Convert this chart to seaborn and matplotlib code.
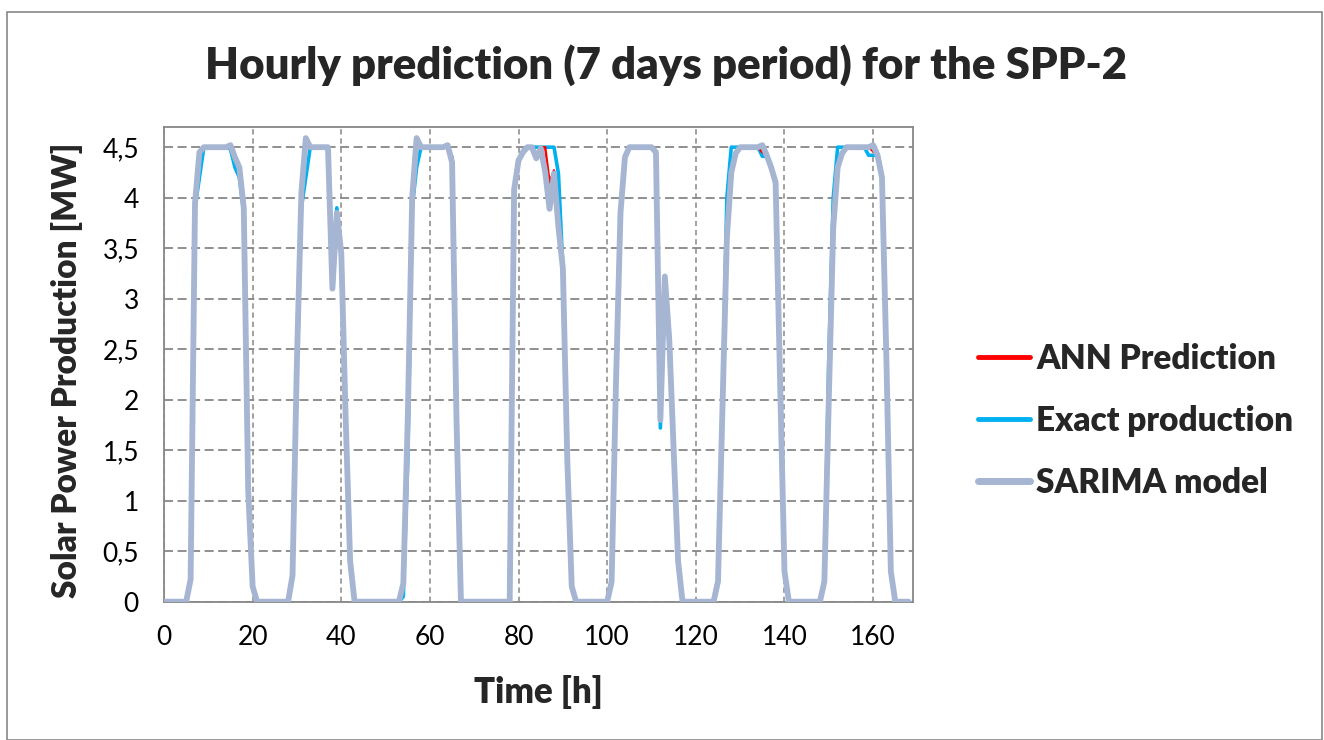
import matplotlib
matplotlib.use("Agg")
import matplotlib.pyplot as plt
import seaborn as sns
import pandas as pd
from matplotlib.patches import Rectangle
from matplotlib.ticker import FuncFormatter, MultipleLocator

# hourly values, 7 days (h0 .. h168)
hours = list(range(169))

ann_prediction = [
    0, 0, 0, 0, 0, 0, 0.22, 3.95, 4.45, 4.5, 4.5, 4.5, 4.5, 4.5, 4.5, 4.52, 4.4, 4.3, 3.9, 1.1, 0.15, 0, 0, 0,
    0, 0, 0, 0, 0, 0.26, 2.4, 4.05, 4.5, 4.5, 4.5, 4.5, 4.5, 4.5, 3.1, 3.85, 3.45, 1.8, 0.4, 0, 0, 0, 0, 0,
    0, 0, 0, 0, 0, 0, 0.18, 1.8, 4.0, 4.59, 4.5, 4.5, 4.5, 4.5, 4.5, 4.5, 4.52, 4.35, 1.8, 0, 0, 0, 0, 0,
    0, 0, 0, 0, 0, 0, 0, 4.08, 4.37, 4.45, 4.5, 4.5, 4.42, 4.5, 4.5, 4.15, 4.27, 3.7, 3.3, 1.4, 0.15, 0, 0, 0,
    0, 0, 0, 0, 0, 0.2, 2.2, 3.85, 4.4, 4.5, 4.5, 4.5, 4.5, 4.5, 4.5, 4.45, 1.8, 3.22, 2.6, 1.5, 0.4, 0, 0, 0,
    0, 0, 0, 0, 0, 0.2, 1.9, 3.6, 4.25, 4.44, 4.5, 4.5, 4.5, 4.5, 4.5, 4.45, 4.42, 4.3, 4.15, 2.2, 0.3, 0, 0, 0,
    0, 0, 0, 0, 0, 0.2, 2.0, 3.7, 4.3, 4.44, 4.5, 4.5, 4.5, 4.5, 4.5, 4.5, 4.46, 4.42, 4.2, 2.4, 0.3, 0, 0, 0, 0,
]

exact_production = [
    0, 0, 0, 0, 0, 0, 0.2, 3.9, 4.2, 4.5, 4.5, 4.5, 4.5, 4.5, 4.5, 4.48, 4.3, 4.2, 3.85, 1.1, 0.15, 0, 0, 0,
    0, 0, 0, 0, 0, 0.25, 2.2, 3.9, 4.2, 4.5, 4.5, 4.5, 4.5, 4.5, 3.1, 3.9, 3.45, 1.8, 0.4, 0, 0, 0, 0, 0,
    0, 0, 0, 0, 0, 0, 0.05, 1.4, 3.9, 4.3, 4.5, 4.5, 4.5, 4.5, 4.5, 4.5, 4.5, 4.4, 2.0, 0, 0, 0, 0, 0,
    0, 0, 0, 0, 0, 0, 0, 4.08, 4.37, 4.47, 4.5, 4.5, 4.5, 4.5, 4.5, 4.5, 4.5, 4.24, 3.3, 1.4, 0.15, 0, 0, 0,
    0, 0, 0, 0, 0, 0.2, 2.2, 3.85, 4.42, 4.5, 4.5, 4.5, 4.5, 4.5, 4.5, 4.45, 1.72, 3.2, 2.6, 1.5, 0.4, 0, 0, 0,
    0, 0, 0, 0, 0, 0.2, 2.0, 4.0, 4.5, 4.5, 4.5, 4.5, 4.5, 4.5, 4.5, 4.41, 4.41, 4.3, 4.15, 2.2, 0.3, 0, 0, 0,
    0, 0, 0, 0, 0, 0.2, 2.4, 4.0, 4.5, 4.5, 4.5, 4.5, 4.5, 4.5, 4.5, 4.42, 4.42, 4.42, 4.2, 2.4, 0.3, 0, 0, 0, 0,
]

sarima_model = [
    0, 0, 0, 0, 0, 0, 0.22, 3.95, 4.45, 4.5, 4.5, 4.5, 4.5, 4.5, 4.5, 4.52, 4.4, 4.3, 3.9, 1.1, 0.15, 0, 0, 0,
    0, 0, 0, 0, 0, 0.26, 2.4, 4.05, 4.59, 4.5, 4.5, 4.5, 4.5, 4.5, 3.1, 3.85, 3.45, 1.8, 0.4, 0, 0, 0, 0, 0,
    0, 0, 0, 0, 0, 0, 0.18, 1.8, 4.0, 4.59, 4.5, 4.5, 4.5, 4.5, 4.5, 4.5, 4.52, 4.35, 1.8, 0, 0, 0, 0, 0,
    0, 0, 0, 0, 0, 0, 0, 4.08, 4.37, 4.45, 4.5, 4.5, 4.39, 4.49, 4.26, 3.89, 4.24, 3.71, 3.3, 1.4, 0.15, 0, 0, 0,
    0, 0, 0, 0, 0, 0.2, 2.2, 3.85, 4.4, 4.5, 4.5, 4.5, 4.5, 4.5, 4.5, 4.45, 1.8, 3.22, 2.6, 1.5, 0.4, 0, 0, 0,
    0, 0, 0, 0, 0, 0.2, 1.9, 3.6, 4.25, 4.44, 4.5, 4.5, 4.5, 4.5, 4.5, 4.52, 4.42, 4.3, 4.15, 2.2, 0.3, 0, 0, 0,
    0, 0, 0, 0, 0, 0.2, 2.0, 3.7, 4.3, 4.44, 4.5, 4.5, 4.5, 4.5, 4.5, 4.5, 4.52, 4.42, 4.2, 2.4, 0.3, 0, 0, 0, 0,
]

sns.set_style("white")
plt.rcParams["font.family"] = ["Lato", "DejaVu Sans"]

grid_col = "#878787"
fig = plt.figure(figsize=(13.24, 7.4), dpi=100)
ax = fig.add_axes([164 / 1324, 1 - 601.7 / 740, 749 / 1324, 474.7 / 740])

df = pd.DataFrame({"hour": hours, "ann": ann_prediction,
                   "exact": exact_production, "sarima": sarima_model})

sns.lineplot(data=df, x="hour", y="exact", ax=ax, color="#00B0F0", lw=2.6,
             label="Exact production", zorder=3)
sns.lineplot(data=df, x="hour", y="ann", ax=ax, color="#FF0000", lw=1.8,
             label="ANN Prediction", zorder=4)
sns.lineplot(data=df, x="hour", y="sarima", ax=ax, color="#A5B5D2", lw=4.2,
             label="SARIMA model", zorder=5)
for ln in ax.get_lines():
    ln.set_solid_joinstyle("round")
    ln.set_solid_capstyle("round")

ax.set_xlim(0, 169)
ax.set_ylim(0, 4.7)
ax.xaxis.set_major_locator(MultipleLocator(20))
ax.set_yticks([0, 0.5, 1, 1.5, 2, 2.5, 3, 3.5, 4, 4.5])
ax.yaxis.set_major_formatter(FuncFormatter(lambda v, _: f"{v:g}".replace(".", ",")))

ax.grid(True, axis="y", color=grid_col, lw=1.3, linestyle=(0, (5, 2.5)))
ax.grid(True, axis="x", color=grid_col, lw=1.1, linestyle=(0, (3.5, 2.5)))
for s in ax.spines.values():
    s.set_color(grid_col)
    s.set_linewidth(1.3)
ax.tick_params(axis="both", colors="black", labelsize=19, length=6, width=1,
               color=grid_col, direction="out")
ax.tick_params(axis="y", pad=12)
ax.tick_params(axis="x", pad=11)

ax.set_xlabel("Time [h]", fontsize=25, fontweight="heavy")
ax.set_ylabel("Solar Power Production [MW]", fontsize=24, fontweight="heavy")
ax.xaxis.set_label_coords(0.4993, -0.155)
ax.yaxis.set_label_coords(-0.108, 0.488)

fig.suptitle("Hourly prediction (7 days period) for the SPP-2", x=666 / 1324,
             y=1 - 65 / 740, va="center", fontsize=31.5, fontweight="heavy")

handles, labels = ax.get_legend_handles_labels()
order = [1, 0, 2]
leg = ax.legend([handles[i] for i in order], [labels[i] for i in order],
                loc="center left", bbox_to_anchor=(961 / 1324, 1 - 421 / 740),
                bbox_transform=fig.transFigure, frameon=False, borderpad=0,
                handlelength=1.56, handletextpad=0.2, labelspacing=0.9,
                prop={"size": 24, "weight": "heavy"})
for h, w in zip(leg.get_lines(), [3.5, 3.5, 5]):
    h.set_linewidth(w)

fig.patches.append(Rectangle((7 / 1324, 0), 1315 / 1324, 728 / 740,
                             transform=fig.transFigure, fill=False,
                             edgecolor=grid_col, lw=1.2))

fig.savefig("out.png", dpi=100)
